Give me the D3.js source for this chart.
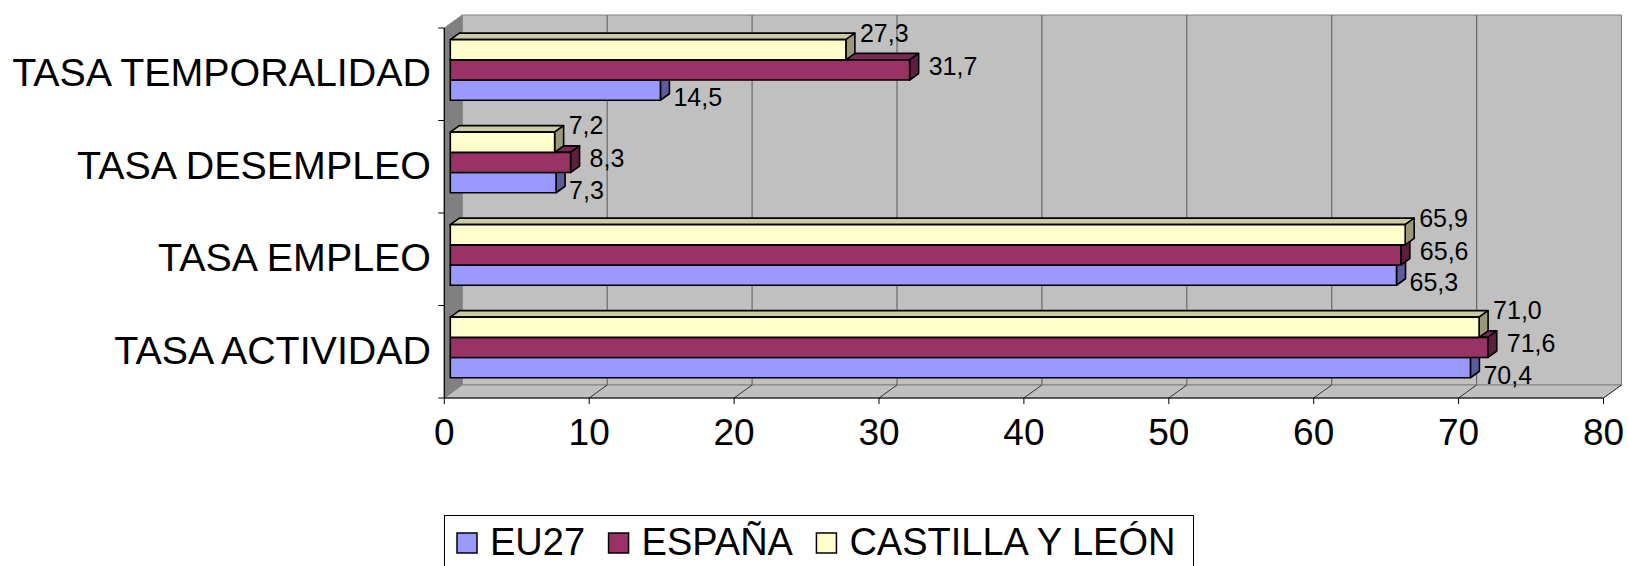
<!DOCTYPE html>
<html><head><meta charset="utf-8">
<script src="https://cdn.jsdelivr.net/npm/d3@7"></script>
<style>body{margin:0;background:#fff}svg{display:block}text{font-family:"Liberation Sans",Arial,sans-serif;fill:#000}</style>
</head><body><svg id="c" width="1628" height="566"></svg>
<script>
// ---- data ----
const categories = ["TASA ACTIVIDAD", "TASA EMPLEO", "TASA DESEMPLEO", "TASA TEMPORALIDAD"];
const seriesNames = ["EU27", "ESPAÑA", "CASTILLA Y LEÓN"];
const eu27 = [70.4, 65.3, 7.3, 14.5];
const espana = [71.6, 65.6, 8.3, 31.7];
const castilla = [71.0, 65.9, 7.2, 27.3];
const xTicks = [0, 10, 20, 30, 40, 50, 60, 70, 80];
const seriesValues = [eu27, espana, castilla];

// ---- style ----
const colors = ["#9999FF", "#993366", "#FFFFCC"];
const labelOffset = [{dx: 13, dy: 7}, {dx: 19, dy: -4}, {dx: 14, dy: -17}];
const fmt = v => d3.format(".1f")(v).replace(".", ",");

(function () {
const svg = d3.select("#c");
const pL = 444.3, pR = 1603.5, pT = 28, pB = 398;
const D = {x: 18, y: -13};          // wall depth
const B0 = {x: 6, y: -4.3};         // bar front-face shift
const BD = {x: 9, y: -6.5};         // bar depth

const x = d3.scaleLinear().domain([0, 80]).range([pL, pR]);
const y = d3.scaleBand().domain(categories.slice().reverse()).range([pT, pB]);
const inner = d3.scaleBand().domain([2, 1, 0]); // series index top -> bottom
const groupH = 60.6;

const poly = pts => pts.map(p => p.join(",")).join(" ");

// walls
svg.append("polygon").attr("points", poly([[pL, pT], [pL, pB], [pL + D.x, pB + D.y], [pL + D.x, pT + D.y]]))
  .attr("fill", "#808080").attr("stroke", "#808080");
svg.append("polygon").attr("points", poly([[pL + D.x, pT + D.y], [pR + D.x, pT + D.y], [pR + D.x, pB + D.y], [pL + D.x, pB + D.y]]))
  .attr("fill", "#C0C0C0").attr("stroke", "#808080");
svg.append("polygon").attr("points", poly([[pL, pB], [pR, pB], [pR + D.x, pB + D.y], [pL + D.x, pB + D.y]]))
  .attr("fill", "#C0C0C0").attr("stroke", "#808080");

// gridlines
svg.append("g").selectAll("line").data(xTicks.slice(1, -1)).join("line")
  .attr("x1", d => x(d) + D.x).attr("x2", d => x(d) + D.x)
  .attr("y1", pT + D.y).attr("y2", pB + D.y)
  .attr("stroke", "#6a6a6a").attr("stroke-width", 1.2);
svg.append("g").selectAll("line").data(xTicks.slice(1)).join("line")
  .attr("x1", d => x(d)).attr("x2", d => x(d) + D.x)
  .attr("y1", pB).attr("y2", pB + D.y)
  .attr("stroke", "#333").attr("stroke-width", 1);

// axes lines & ticks
svg.append("line").attr("x1", pL).attr("x2", pR).attr("y1", pB).attr("y2", pB).attr("stroke", "#000").attr("stroke-width", 1.2);
svg.append("line").attr("x1", pL).attr("x2", pL).attr("y1", pT).attr("y2", pB).attr("stroke", "#000").attr("stroke-width", 1.2);
svg.append("g").selectAll("line").data(xTicks).join("line")
  .attr("x1", d => x(d)).attr("x2", d => x(d)).attr("y1", pB).attr("y2", pB + 6).attr("stroke", "#000");
const yb = [pT].concat(categories.slice().reverse().map(c => y(c) + y.bandwidth()));
svg.append("g").selectAll("line").data(yb).join("line")
  .attr("x1", pL - 6).attr("x2", pL).attr("y1", d => d).attr("y2", d => d).attr("stroke", "#000");

// tick labels
svg.append("g").selectAll("text").data(xTicks).join("text")
  .attr("x", d => x(d)).attr("y", 445).attr("text-anchor", "middle")
  .style("font-size", "37px").text(d => d);

// category labels
svg.append("g").selectAll("text").data(categories).join("text")
  .attr("x", 431).attr("y", d => y(d) + y.bandwidth() / 2 - 2 + 0.358 * 39.4)
  .attr("text-anchor", "end").style("font-size", "39.4px").text(d => d);

// bars
const shade = (c, k) => { const r = d3.rgb(c); return d3.rgb(r.r * k, r.g * k, r.b * k).formatHex(); };
const barsG = svg.append("g");
const labelsG = svg.append("g");
categories.forEach((cat, ci) => {
  const c = y(cat) + y.bandwidth() / 2;
  inner.range([c - groupH / 2, c + groupH / 2]);
  [0, 1, 2].forEach(si => {
    const v = seriesValues[si][ci];
    const y0 = inner(si) + B0.y, h = inner.bandwidth();
    const x0 = x(0) + B0.x, x1 = x(v) + B0.x;
    const g = barsG.append("g").attr("stroke", "#000").attr("stroke-width", 1.6).attr("stroke-linejoin", "round");
    g.append("polygon").attr("points", poly([[x0, y0], [x1, y0], [x1 + BD.x, y0 + BD.y], [x0 + BD.x, y0 + BD.y]]))
      .attr("fill", shade(colors[si], 0.8));
    g.append("polygon").attr("points", poly([[x1, y0], [x1 + BD.x, y0 + BD.y], [x1 + BD.x, y0 + h + BD.y], [x1, y0 + h]]))
      .attr("fill", shade(colors[si], 0.6));
    g.append("rect").attr("x", x0).attr("y", y0).attr("width", x1 - x0).attr("height", h).attr("fill", colors[si]);
    labelsG.append("text").attr("x", x1 + labelOffset[si].dx).attr("y", y0 + h / 2 + labelOffset[si].dy + 0.358 * 25)
      .style("font-size", "25px").text(fmt(v));
  });
});

// legend
const lg = svg.append("g");
lg.append("rect").attr("x", 444.5).attr("y", 515.5).attr("width", 749).attr("height", 70)
  .attr("fill", "#fff").attr("stroke", "#000").attr("stroke-width", 1);
let lx = 457;
seriesNames.forEach((n, i) => {
  lg.append("rect").attr("x", lx).attr("y", 533).attr("width", 20).attr("height", 20)
    .attr("fill", colors[i]).attr("stroke", "#000").attr("stroke-width", 1.5);
  const t = lg.append("text").attr("x", lx + 33).attr("y", 555).style("font-size", "38px").text(n);
  lx = lx + 33 + t.node().getComputedTextLength() + 23.5;
});
})();
</script></body></html>
